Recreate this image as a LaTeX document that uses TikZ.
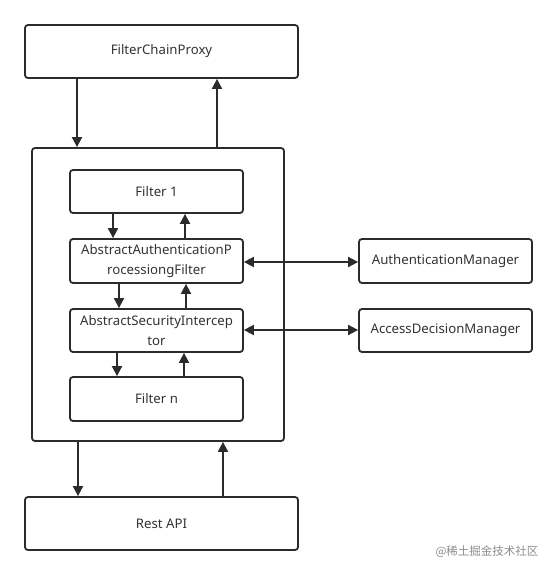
\documentclass[tikz,border=0pt]{standalone}
\usepackage{fontspec}
\setmainfont{Noto Sans}
\newfontfamily\cjkfont{Noto Sans CJK SC}
\usetikzlibrary{arrows.meta}
\definecolor{ln}{HTML}{2B2B2B}
\definecolor{tx}{HTML}{333333}
\tikzset{
  box/.style={draw=ln, line width=1.8pt, rounded corners=3pt, fill=white, text=tx,
    font=\fontsize{13.2}{20}\selectfont, align=center, inner sep=0pt},
  arr/.style={draw=ln, line width=1.8pt, -{Triangle[length=10pt,width=10pt]}},
  darr/.style={draw=ln, line width=1.8pt, {Triangle[length=10pt,width=10pt]}-{Triangle[length=10pt,width=10pt]}},
}
\begin{document}
\begin{tikzpicture}[x=1pt,y=-1pt]
\useasboundingbox (0,0) rectangle (557,576);
\node[box, minimum width=273pt, minimum height=53pt] (fcp) at (161.5,51.5) {FilterChainProxy};
\node[box, minimum width=252pt, minimum height=293pt] (cont) at (158,294.5) {};
\node[box, minimum width=173pt, minimum height=43pt] (f1) at (156.5,191.5) {Filter 1};
\node[box, minimum width=173pt, minimum height=44pt] (aapf) at (156.5,261) {AbstractAuthenticationP\\rocessiongFilter};
\node[box, minimum width=173pt, minimum height=43pt] (asi) at (156.5,330.5) {AbstractSecurityIntercep\\tor};
\node[box, minimum width=173pt, minimum height=44pt] (fn) at (156.5,399) {Filter n};
\node[box, minimum width=173pt, minimum height=44pt] (am) at (445.5,261) {AuthenticationManager};
\node[box, minimum width=173pt, minimum height=43pt] (adm) at (445.5,330.5) {AccessDecisionManager};
\node[box, minimum width=273pt, minimum height=53pt] (api) at (161.5,523.5) {Rest API};
\node[text=black!45, font=\cjkfont\fontsize{11.5}{13}\selectfont, anchor=east] (wm) at (542,552) {@稀土掘金技术社区};
% connectors
\draw[arr] (fcp.south -| 77,0) -- (cont.north -| 77,0);
\draw[arr] (cont.north -| 217,0) -- (fcp.south -| 217,0);
\draw[arr] (f1.south -| 113,0) -- (aapf.north -| 113,0);
\draw[arr] (aapf.north -| 185,0) -- (f1.south -| 185,0);
\draw[arr] (aapf.south -| 119,0) -- (asi.north -| 119,0);
\draw[arr] (asi.north -| 186,0) -- (aapf.south -| 186,0);
\draw[arr] (asi.south -| 117,0) -- (fn.north -| 117,0);
\draw[arr] (fn.north -| 184,0) -- (asi.south -| 184,0);
\draw[arr] (cont.south -| 78,0) -- (api.north -| 78,0);
\draw[arr] (api.north -| 223,0) -- (cont.south -| 223,0);
\draw[darr] (aapf.east |- 0,262) -- (am.west |- 0,262);
\draw[darr] (asi.east |- 0,330) -- (adm.west |- 0,330);
\end{tikzpicture}
\end{document}
